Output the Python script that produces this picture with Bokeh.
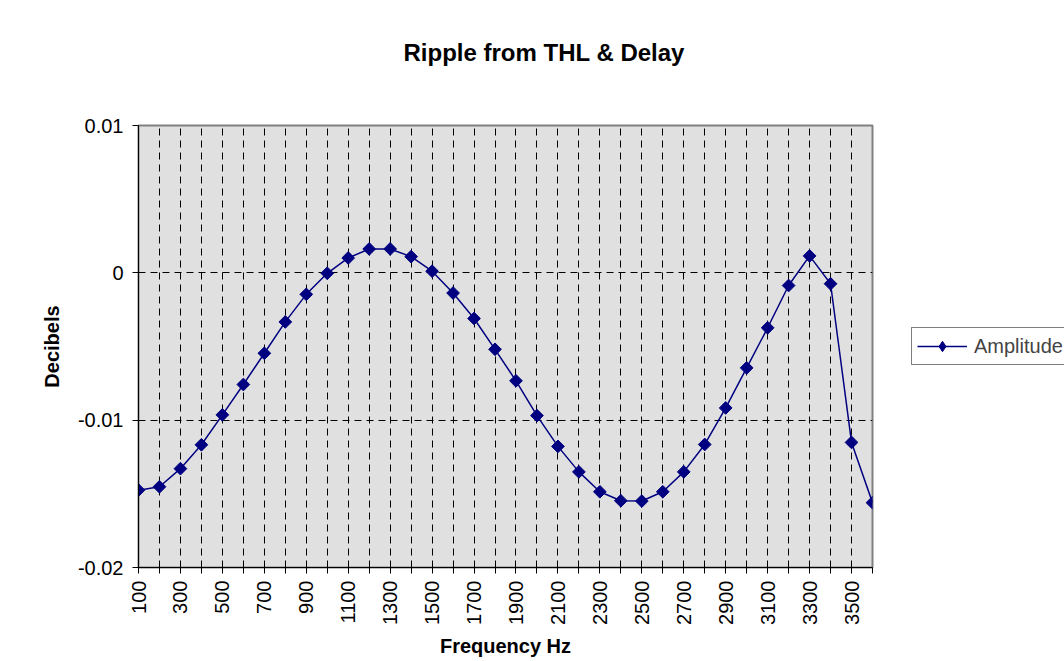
import math
from bokeh.plotting import figure
from bokeh.models import (Range1d, FixedTicker, Legend, LegendItem, Title)
from bokeh.embed import file_html
from bokeh.resources import INLINE

# ---- data ----
freqs = [100, 200, 300, 400, 500, 600, 700, 800, 900, 1000,
         1100, 1200, 1300, 1400, 1500, 1600, 1700, 1800, 1900, 2000,
         2100, 2200, 2300, 2400, 2500, 2600, 2700, 2800, 2900, 3000,
         3100, 3200, 3300, 3400, 3500, 3600]
amplitude = [-0.01475, -0.01452, -0.01329, -0.01167, -0.00964, -0.00758, -0.00546, -0.00333, -0.00146, -0.00003,
             0.00101, 0.00162, 0.00162, 0.00110, 0.00011, -0.00137, -0.00310, -0.00519, -0.00733, -0.00969,
             -0.01178, -0.01351, -0.01486, -0.01547, -0.01549, -0.01486, -0.01351, -0.01165, -0.00917, -0.00645,
             -0.00373, -0.00086, 0.00115, -0.00074, -0.01151, -0.01560]
x_tick_labels = [str(f) if (i % 2 == 0) else "" for i, f in enumerate(freqs)]
y_ticks = [-0.02, -0.01, 0.0, 0.01]
y_tick_labels = ["-0.02", "-0.01", "0", "0.01"]

title_text = "Ripple from THL & Delay"
x_title = "Frequency Hz"
y_title = "Decibels"
series_name = "Amplitude"

FONT = "Liberation Sans"
NAVY = "#000080"

FL, FR, FT, FB = 138, 872, 125, 567
CANVAS_H = 661

p = figure(frame_width=FR - FL, frame_height=FB - FT,
           output_backend="svg", toolbar_location=None,
           x_range=Range1d(freqs[0], freqs[-1]), y_range=Range1d(-0.02, 0.01),
           min_border_left=FL, min_border_right=192,
           min_border_top=FT, min_border_bottom=CANVAS_H - FB)

p.background_fill_color = "#E0E0E0"
p.border_fill_color = "white"
p.outline_line_color = "#808080"
p.outline_line_width = 2

# axes
p.xaxis.ticker = FixedTicker(ticks=freqs)
p.xaxis.major_label_overrides = {f: lab for f, lab in zip(freqs, x_tick_labels)}
p.xaxis.major_label_orientation = math.pi / 2
p.yaxis.ticker = FixedTicker(ticks=y_ticks)
p.yaxis.major_label_overrides = {t: lab for t, lab in zip(y_ticks, y_tick_labels)}

for ax in (p.xaxis[0], p.yaxis[0]):
    ax.axis_line_color = "black"
    ax.axis_line_width = 1
    ax.major_tick_line_color = "black"
    ax.major_tick_out = 6
    ax.major_tick_in = 0
    ax.minor_tick_line_color = None
    ax.major_label_text_font = FONT
    ax.major_label_text_font_size = "20px"
    ax.major_label_text_color = "black"
    ax.axis_label_text_font = FONT
    ax.axis_label_text_font_size = "20px"
    ax.axis_label_text_font_style = "bold"
    ax.axis_label_text_color = "black"

p.xaxis.axis_label = x_title
p.yaxis.axis_label = y_title
p.xaxis.major_label_standoff = 7
p.yaxis.major_label_standoff = 9
p.xaxis.axis_label_standoff = 7
p.yaxis.axis_label_standoff = 12

# grids
p.xgrid.ticker = FixedTicker(ticks=freqs)
p.ygrid.ticker = FixedTicker(ticks=y_ticks)
for g in (p.xgrid[0], p.ygrid[0]):
    g.grid_line_color = "black"
    g.grid_line_width = 1
    g.grid_line_dash = "7 5"

# series
ln = p.line(freqs, amplitude, line_color=NAVY, line_width=1.5)
sc = p.scatter(freqs, amplitude, marker="square", angle=math.pi / 4, size=9,
               fill_color=NAVY, line_color=NAVY)
# diamond swatch for the legend (drawn over the first point)
leg_mark = p.scatter(freqs[:1], amplitude[:1], marker="diamond", size=12,
                     fill_color=NAVY, line_color=NAVY)

legend = Legend(items=[LegendItem(label=series_name, renderers=[ln, leg_mark])],
                location="left", margin=39, padding=5,
                glyph_width=50, glyph_height=26, label_standoff=7,
                label_text_font=FONT, label_text_font_size="20px",
                border_line_color="black", border_line_width=1,
                background_fill_color="white", background_fill_alpha=1.0)
p.add_layout(legend, "right")

# white spacer nearest the frame, then the title above it
p.title = None
p.add_layout(Title(text=".", text_color="white", text_font_size="20px", standoff=44), "above")
p.add_layout(Title(text=title_text, align="left", offset=265, standoff=0,
                   text_font=FONT, text_font_size="24px", text_font_style="bold",
                   text_color="black"), "above")

html = file_html(p, INLINE)
html = html.replace("<head>", "<head><style>html,body{overflow:hidden;}</style>", 1)
open("out.html", "w").write(html)
